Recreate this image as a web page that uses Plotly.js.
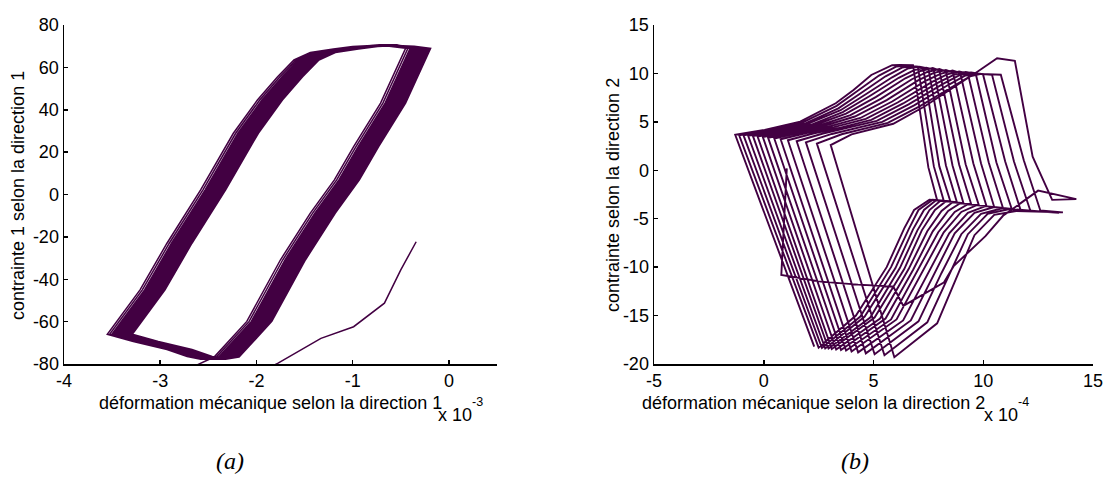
<!DOCTYPE html>
<html>
<head>
<meta charset="utf-8">
<script src="https://cdn.plot.ly/plotly-3.0.1.min.js"></script>
<style>html,body{margin:0;padding:0;background:#fff;}#chart{width:1107px;height:495px;}</style>
</head>
<body>
<div id="chart"></div>
<script>
// ---------- (a) direction 1 : strain in 1e-3, stress ----------
// initial loading branch (partly below the axis range)
const leftInitX = [-0.34, -0.50, -0.67, -0.99, -1.33, -1.78, -2.05, -2.45, -2.69];
const leftInitY = [-22.3, -35.6, -51.3, -62.4, -67.9, -79.7, -86.0, -88.0, -82.0];
// one stabilised hysteresis loop (leftmost cycle of the band)
const leftLoopX = [-2.44, -2.10, -1.75, -1.44, -1.19, -0.99, -0.71, -0.45, -0.62, -0.80, -1.00, -1.20, -1.44, -1.61, -1.78, -1.99, -2.24, -2.58, -2.93, -3.21, -3.55, -3.28, -2.93, -2.72, -2.58, -2.44];
const leftLoopY = [-76.7, -59.9, -30.8, -8.8, 6.9, 22.6, 43.1, 69.0, 70.0, 70.3, 69.8, 68.7, 67.0, 63.5, 55.6, 44.6, 28.9, 2.2, -23.0, -45.0, -66.0, -69.4, -73.2, -76.5, -77.8, -76.7];
// ratcheting drift of each cycle along the strain axis (1e-3)
const leftCycleShift = [0, 0.024, 0.047, 0.063, 0.077, 0.090, 0.102, 0.113, 0.124, 0.134, 0.144, 0.154, 0.164, 0.173, 0.182, 0.191, 0.200, 0.209, 0.218, 0.227, 0.236, 0.245, 0.253, 0.260];
const leftXTicks = [-4, -3, -2, -1, 0];
const leftYTicks = [-80, -60, -40, -20, 0, 20, 40, 60, 80];

// ---------- (b) direction 2 : strain in 1e-4, stress ----------
const rightInitX = [1.05, 0.80, 2.60, 4.30, 5.90, 6.36, 8.20, 8.65];
const rightInitY = [0.2, -10.8, -11.5, -11.8, -12.0, -14.0, -11.6, -9.9];
// bottom points (end of each descending branch)
const botX = [5.95, 5.50, 5.05, 4.65, 4.30, 4.00, 3.75, 3.52, 3.30, 3.10, 2.95, 2.80, 2.65, 2.50, 2.30];
const botY = [-19.3, -19.1, -19.0, -18.9, -18.8, -18.7, -18.6, -18.55, -18.5, -18.45, -18.4, -18.4, -18.35, -18.3, -18.2];
// rising branch, cycles 1..14
const r1X = [7.90, 7.45, 7.05, 6.70, 6.35, 6.05, 5.80, 5.55, 5.30, 5.05, 4.85, 4.60, 4.40, 4.20];
const r1Y = [-15.8, -15.7, -15.6, -15.5, -15.5, -15.4, -15.4, -15.3, -15.3, -15.2, -15.2, -15.1, -15.1, -15.0];
const r2X = [8.85, 8.45, 8.10, 7.80, 7.50, 7.25, 7.00, 6.80, 6.60, 6.40, 6.20, 6.00, 5.80, 5.60];
const r2Y = [-10.8, -10.7, -10.6, -10.5, -10.5, -10.4, -10.3, -10.3, -10.2, -10.2, -10.1, -10.1, -10.0, -10.0];
// cycles 0..14
const r3X = [10.10, 9.60, 9.30, 9.00, 8.70, 8.45, 8.20, 7.95, 7.70, 7.45, 7.20, 7.00, 6.80, 6.60, 6.40];
const r3Y = [-6.8, -6.7, -6.6, -6.6, -6.5, -6.5, -6.4, -6.4, -6.3, -6.3, -6.2, -6.2, -6.1, -6.1, -6.0];
const kneeX = [10.90, 10.50, 10.20, 9.90, 9.60, 9.30, 9.00, 8.70, 8.40, 8.10, 7.80, 7.55, 7.30, 7.05, 6.85];
const kneeY = [-4.7, -4.6, -4.5, -4.5, -4.4, -4.4, -4.3, -4.3, -4.2, -4.2, -4.1, -4.1, -4.1, -4.1, -4.1];
const humpX = [12.50, 11.50, 11.20, 10.90, 10.50, 10.10, 9.70, 9.30, 8.95, 8.60, 8.30, 8.05, 7.85, 7.70, 7.55];
const humpY = [-2.1, -4.2, -4.0, -3.9, -3.8, -3.7, -3.6, -3.5, -3.4, -3.3, -3.2, -3.15, -3.1, -3.05, -3.05];
const tipX = [14.24, 13.63, 13.45, 11.70, 11.30, 10.90, 10.50, 10.15, 9.80, 9.45, 9.10, 8.80, 8.50, 8.20, 7.90];
const tipY = [-2.98, -4.35, -4.4, -4.1, -4.0, -3.9, -3.8, -3.7, -3.6, -3.5, -3.4, -3.3, -3.2, -3.15, -3.1];
const lowX = [13.14, 12.60, 12.15, 11.70, 11.30, 10.90, 10.50, 10.15, 9.80, 9.45, 9.10, 8.80, 8.50, 8.20, 7.90];
const lowY = [-3.05, -4.15, -4.2, -4.1, -4.0, -3.9, -3.8, -3.7, -3.6, -3.5, -3.4, -3.3, -3.2, -3.15, -3.1];
const midX = [12.25, 11.85, 11.40, 11.00, 10.60, 10.25, 9.90, 9.55, 9.20, 8.90, 8.60, 8.30, 8.00, 7.75, 7.50];
const midY = [1.4, 1.0, 0.9, 0.9, 0.8, 0.8, 0.7, 0.7, 0.6, 0.6, 0.5, 0.5, 0.4, 0.4, 0.3];
const topX = [11.44, 10.80, 10.40, 9.99, 9.66, 9.30, 8.95, 8.62, 8.30, 8.00, 7.74, 7.50, 7.26, 7.02, 6.80];
const topY = [11.3, 9.87, 9.85, 9.9, 9.95, 10.0, 10.05, 10.1, 10.2, 10.3, 10.4, 10.5, 10.6, 10.7, 10.85];
const peakX = [10.63, 9.90, 9.70, 9.45, 9.20, 8.90, 8.60, 8.30, 8.00, 7.70, 7.40, 7.10, 6.80, 6.50, 6.20];
const peakY = [11.56, 9.95, 10.0, 10.1, 10.15, 10.2, 10.3, 10.35, 10.45, 10.55, 10.6, 10.7, 10.75, 10.82, 10.88];
const plX = [9.75, 9.40, 9.15, 8.90, 8.65, 8.35, 8.05, 7.75, 7.45, 7.15, 6.85, 6.55, 6.30, 6.05, 5.85];
const plY = [10.2, 9.7, 9.75, 9.8, 9.85, 9.9, 9.95, 10.05, 10.15, 10.25, 10.35, 10.5, 10.6, 10.72, 10.85];
const s1X = [8.94, 8.65, 8.40, 8.15, 7.90, 7.65, 7.35, 7.05, 6.75, 6.45, 6.15, 5.85, 5.55, 5.25, 4.90];
const s1Y = [8.98, 8.7, 8.8, 8.9, 9.0, 9.1, 9.2, 9.3, 9.4, 9.5, 9.55, 9.6, 9.7, 9.78, 9.84];
const s2X = [7.32, 7.10, 6.85, 6.60, 6.35, 6.10, 5.85, 5.60, 5.35, 5.10, 4.85, 4.65, 4.45, 4.25, 4.09];
const s2Y = [6.58, 6.6, 6.7, 6.8, 6.9, 7.0, 7.1, 7.25, 7.4, 7.55, 7.7, 7.85, 8.0, 8.15, 8.29];
const s3X = [5.90, 5.65, 5.40, 5.15, 4.90, 4.65, 4.40, 4.15, 3.95, 3.75, 3.60, 3.50, 3.40, 3.32, 3.28];
const s3Y = [4.8, 4.9, 5.0, 5.1, 5.2, 5.3, 5.4, 5.55, 5.7, 5.85, 6.0, 6.2, 6.4, 6.65, 6.92];
const s4X = [4.80, 4.45, 4.10, 3.80, 3.50, 3.20, 2.95, 2.70, 2.50, 2.30, 2.15, 2.00, 1.90, 1.78, 1.66];
const s4Y = [4.2, 4.25, 4.3, 4.35, 4.4, 4.45, 4.5, 4.55, 4.6, 4.65, 4.7, 4.8, 4.85, 4.95, 5.03];
const s5X = [4.00, 3.55, 3.10, 2.70, 2.30, 1.95, 1.65, 1.35, 1.10, 0.85, 0.65, 0.45, 0.30, 0.15, 0.04];
const s5Y = [3.7, 3.72, 3.75, 3.8, 3.82, 3.85, 3.9, 3.92, 3.95, 4.0, 4.02, 4.05, 4.1, 4.12, 4.17];
const upLeftX = [3.05, 2.42, 1.92, 1.50, 1.10, 0.77, 0.48, 0.20, -0.04, -0.28, -0.49, -0.71, -0.92, -1.12, -1.30];
const upLeftY = [2.6, 2.75, 2.88, 3.0, 3.1, 3.2, 3.28, 3.35, 3.42, 3.48, 3.52, 3.56, 3.6, 3.62, 3.66];
const rightXTicks = [-5, 0, 5, 10, 15];
const rightYTicks = [-20, -15, -10, -5, 0, 5, 10, 15];

// ---------- build the paths ----------
const lx = leftInitX.slice(), ly = leftInitY.slice();
leftCycleShift.forEach(s => {
  leftLoopX.forEach((v, i) => { lx.push(v + s); ly.push(leftLoopY[i]); });
});

const rx = rightInitX.slice(), ry = rightInitY.slice();
for (let k = 0; k < upLeftX.length; k++) {
  if (k > 0) {
    rx.push(botX[k - 1], r1X[k - 1], r2X[k - 1]);
    ry.push(botY[k - 1], r1Y[k - 1], r2Y[k - 1]);
  }
  const seqX = [r3X, kneeX, humpX, tipX, lowX, midX, topX, peakX, plX, s1X, s2X, s3X, s4X, s5X, upLeftX];
  const seqY = [r3Y, kneeY, humpY, tipY, lowY, midY, topY, peakY, plY, s1Y, s2Y, s3Y, s4Y, s5Y, upLeftY];
  seqX.forEach((arr, j) => { rx.push(arr[k]); ry.push(seqY[j][k]); });
}
rx.push(botX[botX.length - 1]); ry.push(botY[botY.length - 1]);

const col = '#420042';
const traces = [
  {x: lx, y: ly, type: 'scatter', mode: 'lines', line: {color: col, width: 1.5}, xaxis: 'x', yaxis: 'y', hoverinfo: 'skip'},
  {x: rx, y: ry, type: 'scatter', mode: 'lines', line: {color: col, width: 1.9}, xaxis: 'x2', yaxis: 'y2', hoverinfo: 'skip'}
];

const W = 1107, H = 495;
const tickFont = {family: 'Liberation Sans, Arial, sans-serif', size: 18, color: '#000'};
const supFont = {family: 'Liberation Sans, Arial, sans-serif', size: 12.5, color: '#000'};
const capFont = {family: 'Liberation Serif, Times New Roman, serif', size: 24, color: '#000', style: 'italic'};
function ax(extra) {
  return Object.assign({
    showline: true, linecolor: '#000', linewidth: 1.5, mirror: false,
    ticks: 'inside', ticklen: 4, tickwidth: 1.5, tickcolor: '#000',
    showgrid: false, zeroline: false, tickfont: tickFont, fixedrange: true
  }, extra);
}
function note(text, px, py, font, extra) {
  return Object.assign({text: text, xref: 'paper', yref: 'paper', x: px / W, y: 1 - py / H,
    xanchor: 'left', yanchor: 'middle', showarrow: false, font: font}, extra || {});
}
const yDom = [1 - 364 / H, 1 - 25 / H];
const layout = {
  width: W, height: H,
  margin: {l: 0, r: 0, t: 0, b: 0},
  paper_bgcolor: '#fff', plot_bgcolor: 'rgba(0,0,0,0)',
  showlegend: false,
  xaxis: ax({domain: [64 / W, 497 / W], range: [-4, 0.5], tickvals: leftXTicks, ticktext: leftXTicks.map(String), anchor: 'y'}),
  yaxis: ax({domain: yDom, range: [-80, 80], tickvals: leftYTicks, ticktext: leftYTicks.map(String), anchor: 'x'}),
  xaxis2: ax({domain: [654 / W, 1093 / W], range: [-5, 15], tickvals: rightXTicks, ticktext: rightXTicks.map(String), anchor: 'y2'}),
  yaxis2: ax({domain: yDom, range: [-20, 15], tickvals: rightYTicks, ticktext: rightYTicks.map(String), anchor: 'x2'}),
  annotations: [
    note('déformation mécanique selon la direction 1', 97, 403, tickFont),
    note('x 10', 436, 415, tickFont),
    note('-3', 470, 402, supFont),
    note('déformation mécanique selon la direction 2', 640, 403, tickFont),
    note('x 10', 982, 415, tickFont),
    note('-4', 1016, 402, supFont),
    note('contrainte 1 selon la direction 1', 18, 196, tickFont, {xanchor: 'center', textangle: -90}),
    note('contrainte selon la direction 2', 613, 195, tickFont, {xanchor: 'center', textangle: -90}),
    note('(a)', 230, 461, capFont, {xanchor: 'center'}),
    note('(b)', 855, 461, capFont, {xanchor: 'center'})
  ]
};
Plotly.newPlot('chart', traces, layout, {staticPlot: true, displayModeBar: false});
</script>
</body>
</html>
